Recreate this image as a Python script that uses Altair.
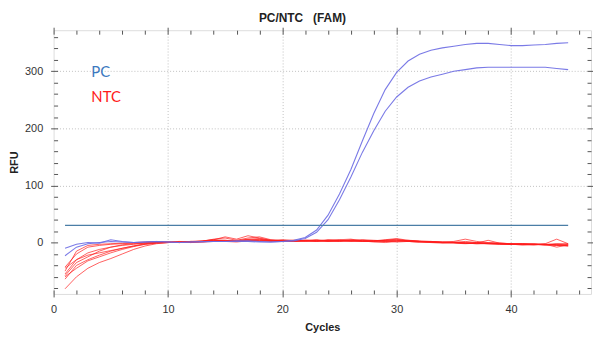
import altair as alt
import pandas as pd

cycles = list(range(1, 46))

pc_a = [-10, -3, 0, -1, 5, 2, 0, 1, 2, 1, 0, 1, 2, 2, 2, 3, 3, 2, 1, 2, 4, 9, 22, 48, 85,
        128, 178, 226, 268, 298, 318, 330, 337, 341, 344, 347, 349, 349, 347, 345, 345, 346, 347, 349, 350]
pc_b = [-23, -8, -2, 0, 2, 1, 0, 1, 2, 1, 0, 1, 1, 2, 2, 2, 2, 1, 1, 2, 3, 7, 18, 40, 75,
        115, 158, 196, 230, 255, 272, 283, 290, 295, 300, 303, 306, 307, 307, 307, 307, 307, 307, 305, 303]

ntc = [
    [-43, -20, -8, -5, -3, -2, -1, 0, 1, 0, 1, 0, 2, 4, 3, 2, 5, 3, 2, 3, 4, 3, 2, 3, 4, 3, 2, 2, 3, 4, 2, 1, 1, 0, 0, -1, 0, -1, -2, -3, -3, -2, -3, -2, -3],
    [-55, -30, -18, -12, -8, -5, -3, -1, 0, 1, 0, 2, 1, 3, 2, 3, 4, 6, 3, 2, 3, 4, 5, 3, 2, 4, 3, 2, 4, 6, 3, 2, 1, 1, 0, 2, 0, -1, -1, -2, -2, -3, -4, -3, -4],
    [-64, -40, -30, -22, -15, -10, -6, -3, -1, 0, 1, 2, 2, 6, 8, 4, 8, 10, 5, 3, 2, 3, 4, 2, 3, 2, 4, 3, 2, 3, 2, 1, 0, -1, 0, -1, -2, -2, -3, -3, -4, -3, -4, -5, -5],
    [-81, -60, -45, -35, -28, -20, -12, -6, -2, 0, 1, 1, 3, 5, 10, 6, 12, 8, 4, 5, 4, 3, 2, 4, 5, 6, 3, 1, 0, 2, 3, 2, 1, 0, 0, -1, -1, -2, -2, -3, -3, -3, -4, -4, -6],
    [-50, -15, -5, -3, -2, -1, 0, 1, 2, 1, 0, 1, 2, 3, 4, 2, 3, 5, 4, 3, 2, 4, 3, 5, 4, 3, 2, 3, 5, 7, 4, 3, 2, 1, 2, 6, 2, 0, -1, -2, -2, -3, -2, 6, -2],
    [-58, -35, -25, -15, -8, -4, -2, -1, 0, 1, 2, 0, 1, 2, 3, 4, 5, 4, 3, 4, 3, 2, 3, 4, 3, 5, 4, 3, 2, 3, 4, 2, 1, 0, 1, 0, -1, 4, -1, -2, -3, -4, -3, -8, -4],
    [-45, -30, -22, -18, -14, -10, -6, -2, 0, 1, 0, 1, 2, 3, 2, 1, 3, 4, 3, 2, 3, 4, 3, 2, 4, 3, 5, 4, 3, 1, 2, 1, 2, 1, 0, -1, -2, -1, -2, -3, -2, -3, -4, -3, -2],
    [-60, -45, -32, -25, -18, -12, -7, -3, -1, 0, 1, 2, 3, 5, 4, 3, 6, 7, 4, 3, 2, 3, 4, 3, 2, 3, 2, 3, 4, 5, 3, 2, 1, 0, -1, -2, -1, -2, -3, -3, -4, -4, -3, -5, -6],
]

threshold = 30
threshold_start, threshold_end = 1, 45

legend_labels = ["PC", "NTC"]
legend_colors = ["#3b78c0", "#ff1a1a"]
legend_x = [3.3, 3.3]
legend_y = [298, 255]

x_ticks = list(range(0, 47, 2))
y_ticks = list(range(-80, 361, 20))

rows = []
for i, vals in enumerate(ntc):
    for c, v in zip(cycles, vals):
        rows.append({"cycle": c, "rfu": v, "well": f"N{i}"})
ntc_df = pd.DataFrame(rows)
rows = []
for name, vals in (("A", pc_a), ("B", pc_b)):
    for c, v in zip(cycles, vals):
        rows.append({"cycle": c, "rfu": v, "well": name})
pc_df = pd.DataFrame(rows)
thr_df = pd.DataFrame({"x": [threshold_start], "x2": [threshold_end], "y": [threshold]})
leg_df = pd.DataFrame({"label": legend_labels, "color": legend_colors, "x": legend_x, "y": legend_y})

xscale = alt.Scale(domain=[0, 47], nice=False, zero=False)
yscale = alt.Scale(domain=[-90, 372], nice=False, zero=False)

FONT = "Liberation Sans"

def xaxis(orient, labels=True, title=None):
    return alt.Axis(
        orient=orient, values=x_ticks, title=title,
        labels=labels,
        offset=-4,
        labelExpr="datum.value % 10 == 0 ? datum.value : ''",
        labelFont=FONT, labelFontSize=11, labelColor="#333333", labelPadding=7,
        labelFlush=False, labelOverlap=False,
        tickColor="#555555",
        tickSize=alt.condition("datum.value % 10 == 0", alt.value(7), alt.value(4)),
        grid=labels,
        gridColor="#c0c0c0", gridDash=[1, 2],
        gridOpacity=alt.condition("datum.value % 10 == 0 && datum.value > 0", alt.value(1), alt.value(0)),
        domain=False,
        titleFont=FONT, titleFontSize=11, titleFontWeight="bold", titleColor="#222222", titlePadding=7,
    )

def yaxis(orient, labels=True, title=None):
    return alt.Axis(
        orient=orient, values=y_ticks, title=title,
        labels=labels,
        offset=-4,
        labelExpr="datum.value % 100 == 0 ? datum.value : ''",
        labelFont=FONT, labelFontSize=11, labelColor="#333333", labelPadding=8,
        labelOverlap=False,
        tickColor="#555555",
        tickSize=alt.condition("datum.value % 100 == 0", alt.value(7), alt.value(4)),
        grid=labels,
        gridColor="#c0c0c0", gridDash=[1, 2],
        gridOpacity=alt.condition("datum.value % 100 == 0 && datum.value != 0", alt.value(1), alt.value(0)),
        domain=False,
        titleFont=FONT, titleFontSize=11, titleFontWeight="bold", titleColor="#222222", titlePadding=5,
    )

ntc_layer = alt.Chart(ntc_df).mark_line(color="#ff1c1c", strokeWidth=1, opacity=0.7).encode(
    x=alt.X("cycle:Q", scale=xscale, axis=xaxis("bottom", True, "Cycles")),
    y=alt.Y("rfu:Q", scale=yscale, axis=yaxis("left", True, "RFU")),
    detail="well:N",
)

pc_layer = alt.Chart(pc_df).mark_line(color="#6b6be3", strokeWidth=1.1, opacity=0.9).encode(
    x=alt.X("cycle:Q", scale=xscale, axis=None),
    y=alt.Y("rfu:Q", scale=yscale, axis=None),
    detail="well:N",
)

thr_layer = alt.Chart(thr_df).mark_rule(color="#4a7ea6", strokeWidth=1.2).encode(
    x=alt.X("x:Q", scale=xscale, axis=xaxis("top", False)),
    x2="x2:Q",
    y=alt.Y("y:Q", scale=yscale, axis=yaxis("right", False)),
)

text_layer = alt.Chart(leg_df).mark_text(align="left", baseline="middle", font="Lato", fontSize=15).encode(
    x=alt.X("x:Q", scale=xscale, axis=None),
    y=alt.Y("y:Q", scale=yscale, axis=None),
    text="label:N",
    color=alt.Color("color:N", scale=None),
)

chart = alt.layer(ntc_layer, pc_layer, thr_layer, text_layer).resolve_axis(
    x="independent", y="independent"
).properties(
    width=542, height=266,
    title=alt.TitleParams("PC/NTC\u00a0\u00a0\u00a0(FAM)", font=FONT, fontSize=12, fontWeight="bold",
                          color="#222222", offset=2, dx=-20),
    padding={"left": 46, "top": 21, "right": 2, "bottom": 40},
    autosize=alt.AutoSizeParams(type="none"),
).configure_view(stroke="#555555", strokeWidth=1).configure(background="white")

chart.save("out.html", embed_options={"renderer": "svg", "actions": False})
